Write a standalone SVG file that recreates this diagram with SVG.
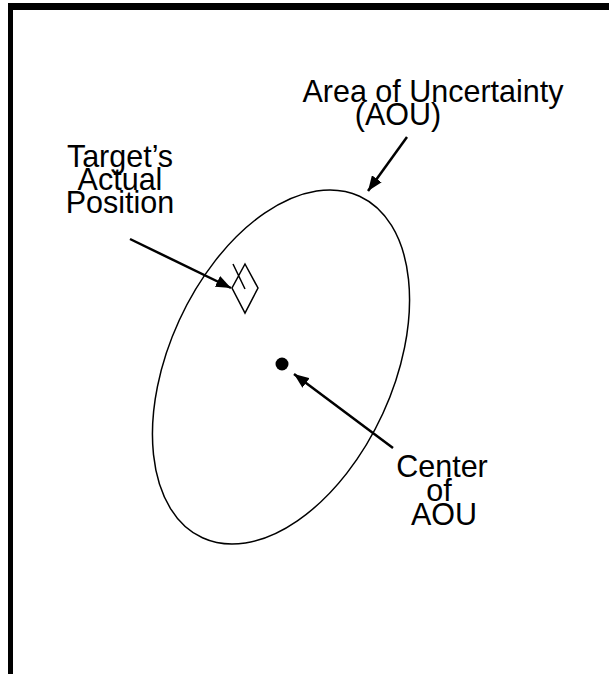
<svg xmlns="http://www.w3.org/2000/svg" width="609" height="674" viewBox="0 0 609 674">
<style>
text{font-family:"Liberation Sans",Arial,sans-serif;font-size:30.5px;fill:#000;text-anchor:middle}
.conn{stroke:#000;stroke-width:2.5;fill:none;marker-end:url(#ah)}
.thin{stroke:#000;stroke-width:1.5;fill:none}
</style>
<defs>
<marker id="ah" markerUnits="userSpaceOnUse" markerWidth="16" markerHeight="12" refX="15" refY="6" orient="auto">
<path d="M0,0 L15,6 L0,12 Z" fill="#000"/>
</marker>
</defs>
<rect width="609" height="674" fill="#fff"/>
<g id="frame">
<rect x="8" y="3" width="601" height="7" fill="#000"/>
<rect x="8" y="3" width="5" height="671" fill="#000"/>
</g>
<g id="aou">
<ellipse class="thin" cx="281" cy="367" rx="112" ry="188" transform="rotate(24.7 281 367)"/>
</g>
<g id="target">
<path class="thin" d="M245,264 L258,288 L245,313 L232,288 Z M233,264 L245,289"/>
</g>
<g id="center">
<circle cx="282" cy="364" r="6.5" fill="#000"/>
</g>
<g id="label-aou">
<text x="433" y="101.7">Area of Uncertainty</text>
<text x="398" y="125">(AOU)</text>
</g>
<g id="label-target">
<text x="120" y="166.7">Target’s</text>
<text x="120" y="190">Actual</text>
<text x="120" y="213.3">Position</text>
</g>
<g id="label-center">
<text x="442" y="476.7">Center</text>
<text x="439" y="500.7">of</text>
<text x="444" y="525">AOU</text>
</g>
<g id="connectors">
<line class="conn" x1="130" y1="239" x2="231" y2="288"/>
<line class="conn" x1="407" y1="137" x2="368" y2="191"/>
<line class="conn" x1="393" y1="448" x2="294" y2="374"/>
</g>
</svg>
